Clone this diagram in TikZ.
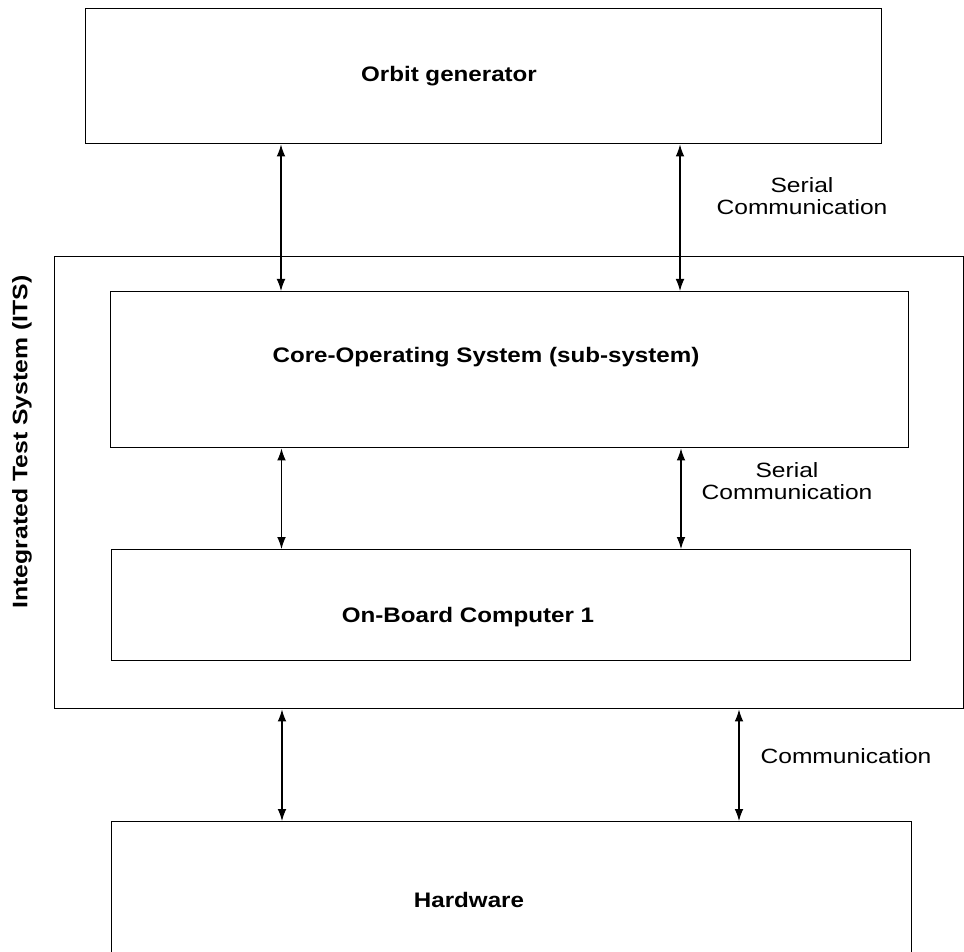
\documentclass[tikz,border=0pt]{standalone}
\usepackage{fontspec}
\setmainfont{Liberation Sans}
\usetikzlibrary{arrows.meta}
% horizontally widened text, as set in the figure
\newcommand{\widetext}[2]{\scalebox{#1}[1]{#2}}
\tikzset{
  blockbox/.style={draw, line width=1.1pt, inner sep=0pt, anchor=north west},
  blocklabel/.style={font=\fontsize{15.75}{18}\selectfont\bfseries, inner sep=0pt},
  linklabel/.style={font=\fontsize{15.5}{17.5}\selectfont, inner sep=0pt, align=center},
  biarrow/.style={line width=0.8pt, {Latex[length=9pt,width=6.5pt]}-{Latex[length=9pt,width=6.5pt]}},
}
\begin{document}
\begin{tikzpicture}[x=0.75pt, y=-0.75pt]
\useasboundingbox (0,0) rectangle (964,952);
\clip (0,0) rectangle (964,952);

% boxes, given by their top-left corners and sizes
\node[blockbox, minimum width=597pt, minimum height=101.25pt] (orbit) at (85,8) {};
\node[blockbox, minimum width=681.75pt, minimum height=339pt] (its) at (54,256) {};
\node[blockbox, minimum width=598.5pt, minimum height=117pt] (core) at (110,291) {};
\node[blockbox, minimum width=599.25pt, minimum height=83.25pt] (obc) at (111,549) {};
\node[blockbox, minimum width=600pt, minimum height=112pt] (hw) at (111,821) {};

% box titles
\node[blocklabel] (orbitT) at (449,76) {\widetext{1.15}{Orbit generator}};
\node[blocklabel] (coreT) at (486,357) {\widetext{1.15}{Core-Operating System (sub-system)}};
\node[blocklabel] (obcT) at (468,617) {\widetext{1.15}{On-Board Computer 1}};
\node[blocklabel] (hwT) at (469,900) {\widetext{1.15}{Hardware}};
\node[blocklabel, rotate=90] (itsT) at (22,442) {\widetext{1.18}{Integrated Test System (ITS)}};

% x positions of the links
\coordinate (xa) at (281,0);
\coordinate (xb) at (680,0);
\coordinate (xc) at (281.5,0);
\coordinate (xd) at (681,0);
\coordinate (xe) at (282,0);
\coordinate (xf) at (739,0);

% links
\draw[biarrow] (orbit.south -| xa) -- (core.north -| xa);
\draw[biarrow] (orbit.south -| xb) -- (core.north -| xb);
\draw[biarrow] (core.south -| xc) -- (obc.north -| xc);
\draw[biarrow] (core.south -| xd) -- (obc.north -| xd);
\draw[biarrow] (its.south -| xe) -- (hw.north -| xe);
\draw[biarrow] (its.south -| xf) -- (hw.north -| xf);

% link labels
\node[linklabel] (serial1) at (802,199) {\widetext{1.19}{\begin{tabular}{@{}c@{}}Serial\\[-1pt]Communication\end{tabular}}};
\node[linklabel] (serial2) at (787,484) {\widetext{1.19}{\begin{tabular}{@{}c@{}}Serial\\[-1pt]Communication\end{tabular}}};
\node[linklabel] (comm) at (846,756) {\widetext{1.19}{Communication}};
\end{tikzpicture}
\end{document}
